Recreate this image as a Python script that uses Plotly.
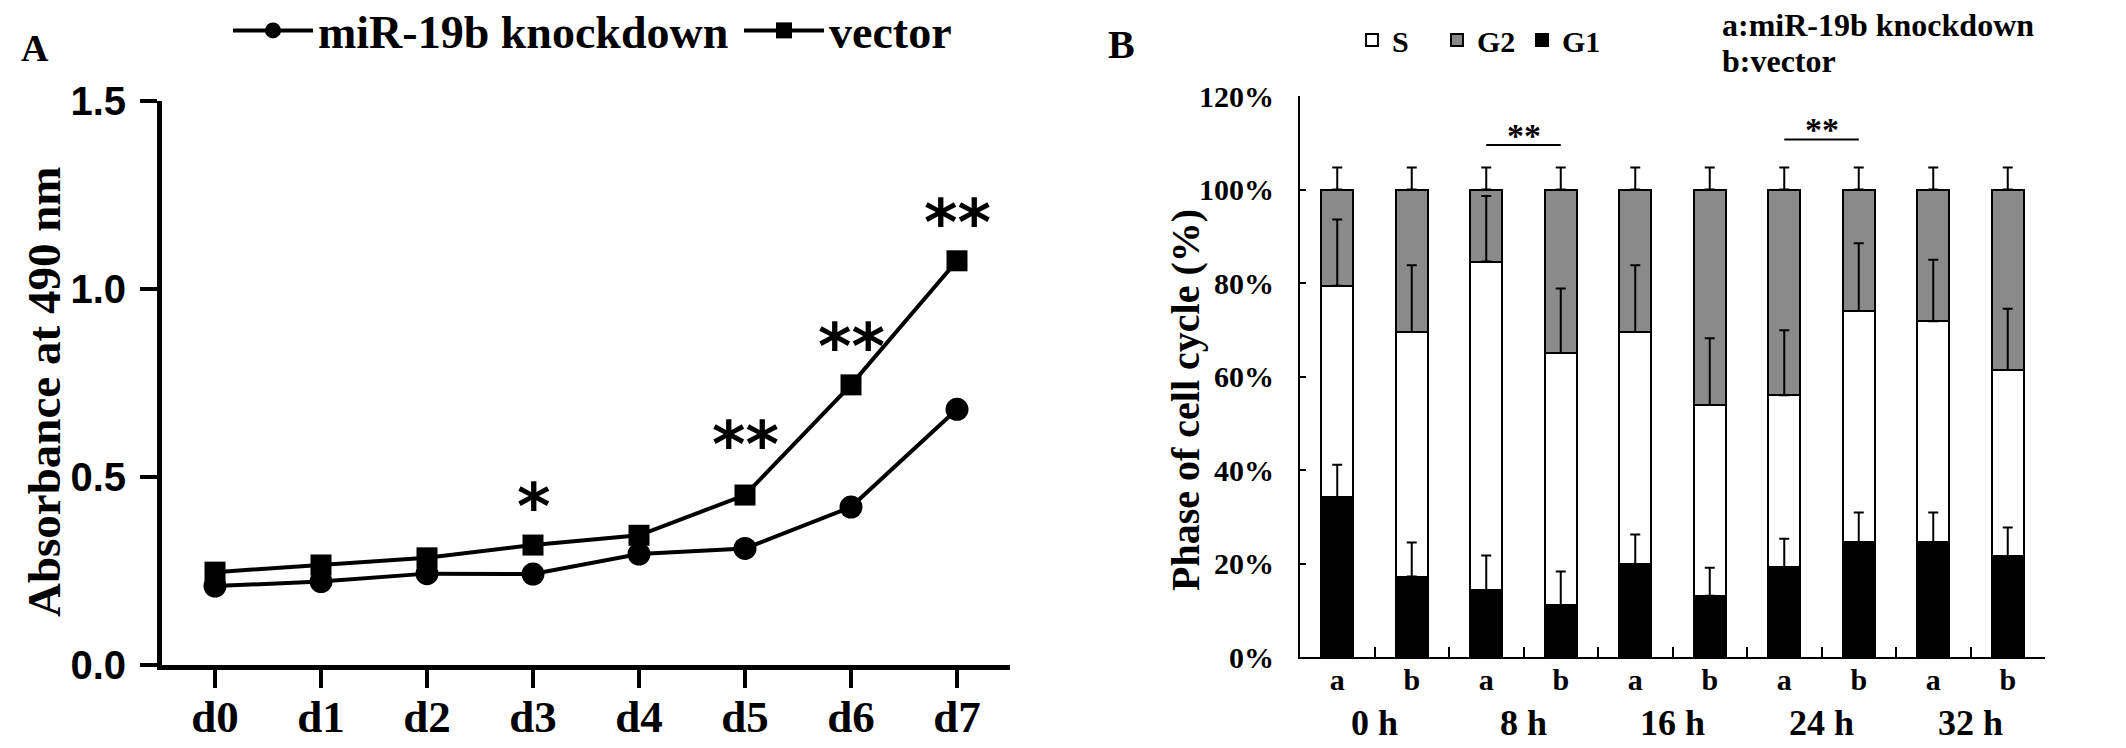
import plotly.graph_objects as go

W, H = 2126, 748
SERIF = "Liberation Serif"
SANS = "Liberation Sans"

# ---------------- Panel A data ----------------
days = ["d0", "d1", "d2", "d3", "d4", "d5", "d6", "d7"]
knockdown = [0.21, 0.222, 0.243, 0.242, 0.295, 0.31, 0.42, 0.68]
vector = [0.247, 0.266, 0.285, 0.319, 0.345, 0.452, 0.745, 1.075]
sig_A = ["", "", "", "*", "", "**", "**", "**"]
sig_A_lift = [0, 0, 0, 38, 0, 50, 38, 38]   # label offset above the vector point (px)
yticks_A = [0.0, 0.5, 1.0, 1.5]

# ---------------- Panel B data ----------------
bar_labels = ["a", "b", "a", "b", "a", "b", "a", "b", "a", "b"]
groups = ["0 h", "8 h", "16 h", "24 h", "32 h"]
g1 = [34.2, 17.2, 14.3, 11.1, 19.8, 13.1, 19.2, 24.5, 24.5, 21.6]
s_phase = [45.2, 52.3, 70.3, 53.9, 49.7, 40.8, 36.8, 49.5, 47.3, 39.8]
g2 = [20.6, 30.5, 15.4, 35.0, 30.5, 46.1, 44.0, 26.0, 28.2, 38.6]
g1_err = [6.9, 7.3, 7.4, 7.2, 6.4, 6.0, 6.1, 6.4, 6.4, 6.1]
s_err = [14.2, 14.3, 14.0, 13.8, 14.3, 14.3, 13.9, 14.5, 13.2, 13.1]
g2_err = [4.7, 4.7, 4.7, 4.7, 4.7, 4.7, 4.7, 4.7, 4.7, 4.7]
sig_B_pairs = [(2, 3, 109.5), (6, 7, 110.7)]
yticks_B = [0, 20, 40, 60, 80, 100, 120]

idx = list(range(len(bar_labels)))

fig = go.Figure()

# Panel A lines
fig.add_trace(go.Scatter(
    x=days, y=knockdown, mode="lines+markers", name="miR-19b knockdown",
    line=dict(color="black", width=4),
    marker=dict(symbol="circle", size=23, color="black"),
    xaxis="x", yaxis="y", legend="legend"))
fig.add_trace(go.Scatter(
    x=days, y=vector, mode="lines+markers", name="vector",
    line=dict(color="black", width=4),
    marker=dict(symbol="square", size=21, color="black"),
    xaxis="x", yaxis="y", legend="legend"))

# Panel B stacked bars
bar_common = dict(width=0.43, xaxis="x2", yaxis="y2", legend="legend2",
                  marker_line=dict(color="black", width=2))
fig.add_trace(go.Bar(x=idx, y=g1, name="G1", marker_color="black",
                     legendrank=3, **bar_common))
fig.add_trace(go.Bar(x=idx, y=s_phase, name="S", marker_color="white",
                     legendrank=1, **bar_common))
fig.add_trace(go.Bar(x=idx, y=g2, name="G2", marker_color="#8a8a8a",
                     legendrank=2, **bar_common))

# Error bars at the top of each stacked segment
top_g1 = g1
top_s = [a + b for a, b in zip(g1, s_phase)]
top_g2 = [a + b + c for a, b, c in zip(g1, s_phase, g2)]
for tops, errs in [(top_g1, g1_err), (top_s, s_err), (top_g2, g2_err)]:
    fig.add_trace(go.Scatter(
        x=idx, y=tops, mode="markers", marker=dict(size=1, opacity=0),
        error_y=dict(type="data", array=errs, arrayminus=[0] * len(errs),
                     symmetric=False, color="black", thickness=2, width=5),
        showlegend=False, hoverinfo="skip", xaxis="x3", yaxis="y2"))

ann = []
# significance stars panel A
for d, v, s, lift in zip(days, vector, sig_A, sig_A_lift):
    if s:
        ann.append(dict(x=d, y=v, xref="x", yref="y", text=s, showarrow=False,
                        xanchor="center", yanchor="middle", yshift=lift,
                        font=dict(family="DejaVu Sans", size=64, color="black", weight="bold")))

# group labels panel B
for i, g in enumerate(groups):
    ann.append(dict(x=2 * i + 0.5, y=1 - 723 / H, xref="x2", yref="paper", text=g,
                    showarrow=False, xanchor="center", yanchor="middle",
                    font=dict(family=SERIF, size=36, color="black", weight="bold")))

shapes = []
for a, b, yv in sig_B_pairs:
    shapes.append(dict(type="line", x0=a, x1=b, y0=yv, y1=yv, xref="x2", yref="y2",
                       line=dict(color="black", width=2)))
    ann.append(dict(x=(a + b) / 2, y=yv, xref="x2", yref="y2", text="**", showarrow=False,
                    xanchor="center", yanchor="middle", yshift=10,
                    font=dict(family=SERIF, size=34, color="black", weight="bold")))

# panel letters, titles, notes
ann += [
    dict(x=35 / W, y=1 - 48 / H, xref="paper", yref="paper", text="A", showarrow=False,
         xanchor="center", yanchor="middle",
         font=dict(family=SERIF, size=38, color="black", weight="bold")),
    dict(x=1121 / W, y=1 - 44 / H, xref="paper", yref="paper", text="B", showarrow=False,
         xanchor="center", yanchor="middle",
         font=dict(family=SERIF, size=40, color="black", weight="bold")),
    dict(x=44 / W, y=1 - 392 / H, xref="paper", yref="paper", text="Absorbance at 490 nm",
         textangle=-90, showarrow=False, xanchor="center", yanchor="middle",
         font=dict(family=SERIF, size=47, color="black", weight="bold")),
    dict(x=1185 / W, y=1 - 400 / H, xref="paper", yref="paper", text="Phase of cell cycle (%)",
         textangle=-90, showarrow=False, xanchor="center", yanchor="middle",
         font=dict(family=SERIF, size=40, color="black", weight="bold")),
    dict(x=1720 / W, y=1 - 25 / H, xref="paper", yref="paper", text="a:miR-19b knockdown",
         xanchor="left", yanchor="middle", showarrow=False,
         font=dict(family=SERIF, size=32, color="black", weight="bold")),
    dict(x=1720 / W, y=1 - 61 / H, xref="paper", yref="paper", text="b:vector",
         xanchor="left", yanchor="middle", showarrow=False,
         font=dict(family=SERIF, size=32, color="black", weight="bold")),
]

fig.update_layout(
    template="none",
    width=W, height=H, margin=dict(l=0, r=0, t=0, b=0, autoexpand=False),
    paper_bgcolor="white", plot_bgcolor="white",
    barmode="stack",
    annotations=ann, shapes=shapes,
    xaxis=dict(domain=[162 / W, 1010 / W], anchor="y", type="category", automargin=False,
               range=[-0.5, 7.5], showline=True, linecolor="black", linewidth=5,
               ticks="outside", ticklen=18, tickwidth=4, tickcolor="black",
               showgrid=False, zeroline=False, ticklabelstandoff=-10,
               tickfont=dict(family=SERIF, size=45, color="black", weight="bold")),
    yaxis=dict(domain=[1 - 665 / H, 1 - 101 / H], anchor="x", range=[0, 1.5], automargin=False,
               tickvals=yticks_A, ticktext=[f"{v:.1f}" for v in yticks_A],
               showline=True, linecolor="black", linewidth=5,
               ticks="outside", ticklen=17, tickwidth=4, tickcolor="black",
               showgrid=False, zeroline=False, ticklabelstandoff=6,
               tickfont=dict(family=SANS, size=40, color="black", weight="bold")),
    xaxis2=dict(domain=[1300 / W, 2045 / W], anchor="y2", range=[-0.5, 9.5], automargin=False,
                tickvals=[i + 0.5 for i in idx], showticklabels=False,
                showline=True, linecolor="black", linewidth=2,
                ticks="inside", ticklen=10, tickwidth=2, tickcolor="black",
                showgrid=False, zeroline=False),
    xaxis3=dict(overlaying="x2", anchor="y2", range=[-0.5, 9.5], side="bottom", automargin=False,
                tickvals=idx, ticktext=bar_labels, ticks="", showline=False,
                showgrid=False, zeroline=False, ticklabelstandoff=2,
                tickfont=dict(family=SERIF, size=30, color="black", weight="bold")),
    yaxis2=dict(domain=[1 - 657 / H, 1 - 96 / H], anchor="x2", range=[0, 120], automargin=False,
                tickvals=yticks_B, ticktext=[f"{v}%" for v in yticks_B],
                showline=True, linecolor="black", linewidth=2,
                ticks="inside", ticklen=6, tickwidth=2, tickcolor="black",
                showgrid=False, zeroline=False, ticklabelstandoff=18,
                tickfont=dict(family=SERIF, size=30, color="black", weight="bold")),
    legend=dict(orientation="h", x=228 / W, y=1 + 6 / H, xanchor="left", yanchor="top",
                bgcolor="rgba(0,0,0,0)", itemwidth=80, entrywidth=416, entrywidthmode="pixels",
                font=dict(family=SERIF, size=46, color="black", weight="bold")),
    legend2=dict(orientation="h", x=1352 / W, y=1 - 14 / H, xanchor="left", yanchor="top",
                 bgcolor="rgba(0,0,0,0)", traceorder="normal",
                 entrywidth=40, entrywidthmode="pixels",
                 font=dict(family=SERIF, size=30, color="black", weight="bold")),
)

fig.write_html("out.html", config={"displayModeBar": False},
               post_script="document.body.style.margin='0';")
